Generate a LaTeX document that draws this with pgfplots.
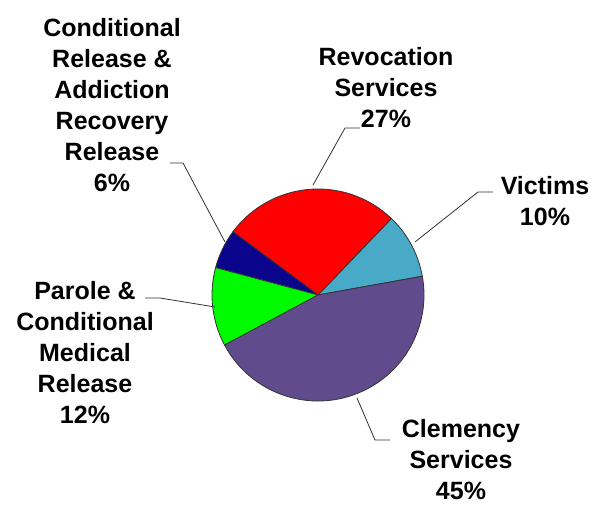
\documentclass[border=0pt]{standalone}
\usepackage{pgfplots}
\usepackage{pgfplotstable}
\pgfplotsset{compat=1.18}
\usepackage{fontspec}
\setmainfont{Liberation Sans}

\definecolor{revred}{RGB}{255,0,0}
\definecolor{victteal}{RGB}{72,170,198}
\definecolor{condnavy}{RGB}{10,5,140}
\definecolor{parolegreen}{RGB}{0,250,0}
\definecolor{clempurple}{RGB}{96,76,140}

% shares in percent, counter-clockwise from the first slice
\pgfplotstableread{
value
10
27
6
12
45
}\piedata

\begin{document}
\begin{tikzpicture}[
    lbl/.style={align=center, font=\bfseries\fontsize{25}{31}\selectfont},
    wedge/.style={draw=black!80, line width=0.8pt},
    lead/.style={draw=black!80, line width=0.8pt}]
\pgfplotstablegetelem{0}{value}\of\piedata \let\vA\pgfplotsretval
\pgfplotstablegetelem{1}{value}\of\piedata \let\vB\pgfplotsretval
\pgfplotstablegetelem{2}{value}\of\piedata \let\vC\pgfplotsretval
\pgfplotstablegetelem{3}{value}\of\piedata \let\vD\pgfplotsretval
\pgfplotstablegetelem{4}{value}\of\piedata \let\vE\pgfplotsretval
\pgfmathsetmacro\aA{10.2}
\pgfmathsetmacro\aB{\aA+3.6*\vA}
\pgfmathsetmacro\aC{\aB+3.6*\vB}
\pgfmathsetmacro\aD{\aC+3.6*\vC}
\pgfmathsetmacro\aE{\aD+3.6*\vD}
\pgfmathsetmacro\aF{\aE+3.6*\vE}
\def\pieR{106pt}
\begin{axis}[
    hide axis,
    scale only axis,
    width=594pt, height=504pt,
    xmin=0, xmax=594, ymin=0, ymax=504,
    clip=false,
  ]
  \path (rel axis cs:0,0) rectangle (rel axis cs:1,1);
  \filldraw[wedge, fill=victteal] (axis cs:318,209) -- ([shift={(\aA:\pieR)}]axis cs:318,209)
    arc[start angle=\aA, end angle=\aB, radius=\pieR] -- cycle;
  \filldraw[wedge, fill=revred] (axis cs:318,209) -- ([shift={(\aB:\pieR)}]axis cs:318,209)
    arc[start angle=\aB, end angle=\aC, radius=\pieR] -- cycle;
  \filldraw[wedge, fill=condnavy] (axis cs:318,209) -- ([shift={(\aC:\pieR)}]axis cs:318,209)
    arc[start angle=\aC, end angle=\aD, radius=\pieR] -- cycle;
  \filldraw[wedge, fill=parolegreen] (axis cs:318,209) -- ([shift={(\aD:\pieR)}]axis cs:318,209)
    arc[start angle=\aD, end angle=\aE, radius=\pieR] -- cycle;
  \filldraw[wedge, fill=clempurple] (axis cs:318,209) -- ([shift={(\aE:\pieR)}]axis cs:318,209)
    arc[start angle=\aE, end angle=\aF, radius=\pieR] -- cycle;

  % leader lines
  \draw[lead] (axis cs:170,341) -- (axis cs:183,341) -- (axis cs:225,262);
  \draw[lead] (axis cs:360,376) -- (axis cs:345,376) -- (axis cs:313,319);
  \draw[lead] (axis cs:493,312) -- (axis cs:478,312) -- (axis cs:415,262);
  \draw[lead] (axis cs:145,206) -- (axis cs:160,206) -- (axis cs:215,197);
  \draw[lead] (axis cs:357,106) -- (axis cs:375,64) -- (axis cs:390,64);

  % labels
  \node[lbl] at (axis cs:112,399) {Conditional\\Release \&\\Addiction\\Recovery\\Release\\6\%};
  \node[lbl] at (axis cs:386,416) {Revocation\\Services\\27\%};
  \node[lbl] at (axis cs:545,303) {Victims\\10\%};
  \node[lbl] at (axis cs:85,151) {Parole \&\\Conditional\\Medical\\Release\\12\%};
  \node[lbl] at (axis cs:461,44) {Clemency\\Services\\45\%};
\end{axis}
\end{tikzpicture}
\end{document}
